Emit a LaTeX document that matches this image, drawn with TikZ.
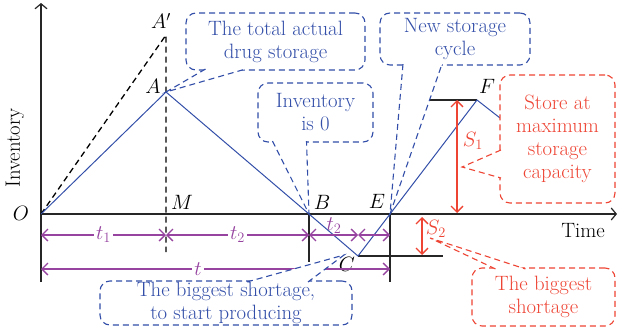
\documentclass[tikz,border=0pt]{standalone}
\usetikzlibrary{arrows.meta}
\definecolor{noteblue}{RGB}{50,78,168}
\definecolor{warnred}{RGB}{238,68,52}
\definecolor{dimpurple}{RGB}{150,68,160}
\begin{document}
\begin{tikzpicture}[x=1pt, y=-1pt, font=\fontsize{20.74}{23}\selectfont,
    axis/.style = {black!85, line width=1.2pt, -{Straight Barb[length=5pt,width=12pt]}},
    curve/.style = {noteblue, line width=1pt},
    guide/.style = {black, line width=1.3pt, dash pattern=on 6pt off 4pt},
    level/.style = {black!85, line width=1.2pt},
    dim/.style = {dimpurple, line width=1.3pt, {Straight Barb[length=6pt,width=12pt]}-{Straight Barb[length=6pt,width=12pt]}},
    span/.style = {warnred, line width=1.3pt, {Straight Barb[length=6pt,width=12pt]}-{Straight Barb[length=6pt,width=12pt]}},
    gap/.style = {fill=white, text=dimpurple, inner sep=2pt},
    note/.style = {draw=#1, text=#1, fill=white, dash pattern=on 6pt off 4pt, line width=1.1pt, rounded corners=10pt, align=center, inner sep=0pt},
    tail/.style = {draw=#1, fill=white, dash pattern=on 6pt off 4pt, line width=1.1pt}]

\useasboundingbox (0,0) rectangle (628,332);

% points of the inventory curve
\coordinate (O) at (41,214);
\coordinate (A) at (166,92);
\coordinate (Ap) at (166,35);
\coordinate (Mb) at (166,252);
\coordinate (B) at (309,214);
\coordinate (Bb) at (309,262);
\coordinate (C) at (358,256);
\coordinate (Cr) at (443,256);
\coordinate (E) at (390,214);
\coordinate (Eb) at (390,282);
\coordinate (F) at (477,100);
\coordinate (Fl) at (430,100);
\coordinate (Fr) at (500,118);
\coordinate (ybot) at (41,282);
\coordinate (ytop) at (41,3);
\coordinate (xend) at (617,214);

% axes
\draw[axis] (ybot) -- (ytop);
\draw[axis] (O) -- (xend);
\node[rotate=90] (ylab) at (15,148) {Inventory};
\node (xlab) at (583,231) {Time};

\draw[guide] (O) -- (Ap) -- (Mb);
\draw[level] (B) -- (Bb);
\draw[level] (E) -- (Eb);
\draw[level] (C) -- (Cr);
\draw[level] (Fl) -- (F);
\draw[curve] (O) -- (A) -- (B) -- (C) -- (F) -- (Fr);

\node (lO) at (21,213) {$O$};
\node (lAp) at (161,21) {$A'$};
\node (lA) at (153,86) {$A$};
\node (lM) at (182,202) {$M$};
\node (lB) at (322,202) {$B$};
\node (lE) at (377,201) {$E$};
\node (lC) at (347,264) {$C$};
\node (lF) at (487,86) {$F$};

% stock levels
\coordinate (s1t) at (457,100);
\coordinate (s1b) at (457,213);
\coordinate (s2t) at (422,217);
\coordinate (s2b) at (422,255);
\draw[span] (s1t) -- (s1b);
\draw[span] (s2t) -- (s2b);
\node[text=warnred] (lS1) at (473,141) {$S_1$};
\node[text=warnred] (lS2) at (436,229) {$S_2$};

% time spans
\coordinate (d0) at (41,235);
\coordinate (d1) at (166,235);
\coordinate (d2) at (309,235);
\coordinate (d3) at (358,235);
\coordinate (d4) at (390,235);
\coordinate (T0) at (41,269);
\coordinate (T1) at (390,269);
\draw[dim] (d0) -- node[gap] {$t_1$} (d1);
\draw[dim] (d1) -- node[gap] {$t_2$} (d2);
\draw[dim] (d2) -- (d3);
\draw[dim] (d3) -- (d4);
\node[text=dimpurple] (lt2) at (334,226) {$t_2$};
\draw[dim] (T0) -- node[gap, pos=0.45] {$t$} (T1);

% callouts
\coordinate (maxpt) at (462,167);
\coordinate (shortpt) at (344,255);
\coordinate (lowpt) at (430,238);

\node[note=noteblue, minimum width=179pt, minimum height=57pt] (total) at (275.5,41.5) {The total actual\\drug storage};
\path[tail=noteblue] ([xshift=-70pt, yshift=1.5pt]total.south) -- (A) -- ([xshift=-30pt, yshift=1.5pt]total.south);

\node[note=noteblue, minimum width=115pt, minimum height=59pt] (zero) at (315.5,112.5) {Inventory\\is 0};
\path[tail=noteblue] ([xshift=-43pt, yshift=1.5pt]zero.south) -- (B) -- ([xshift=-9pt, yshift=1.5pt]zero.south);

\node[note=noteblue, minimum width=150pt, minimum height=52pt] (cycle) at (455,39) {New storage\\cycle};
\path[tail=noteblue] ([xshift=-52pt, yshift=1.5pt]cycle.south) -- (E) -- ([xshift=-13pt, yshift=1.5pt]cycle.south);

\node[note=warnred, minimum width=115pt, minimum height=128pt] (store) at (557.5,139) {Store at\\maximum\\storage\\capacity};
\path[tail=warnred] ([xshift=1.5pt, yshift=-11pt]store.west) -- (maxpt) -- ([xshift=1.5pt, yshift=-39pt]store.west);

\node[note=noteblue, minimum width=252pt, minimum height=44pt] (produce) at (226,303) {The biggest shortage,\\to start producing};
\path[tail=noteblue] ([xshift=21pt, yshift=-1.5pt]produce.north) -- (shortpt) -- ([xshift=82pt, yshift=-1.5pt]produce.north);

\node[note=warnred, minimum width=143pt, minimum height=58pt] (lack) at (543.5,297) {The biggest\\shortage};
\path[tail=warnred] ([xshift=-48pt, yshift=-1.5pt]lack.north) -- (lowpt) -- ([xshift=-18pt, yshift=-1.5pt]lack.north);

\end{tikzpicture}
\end{document}
